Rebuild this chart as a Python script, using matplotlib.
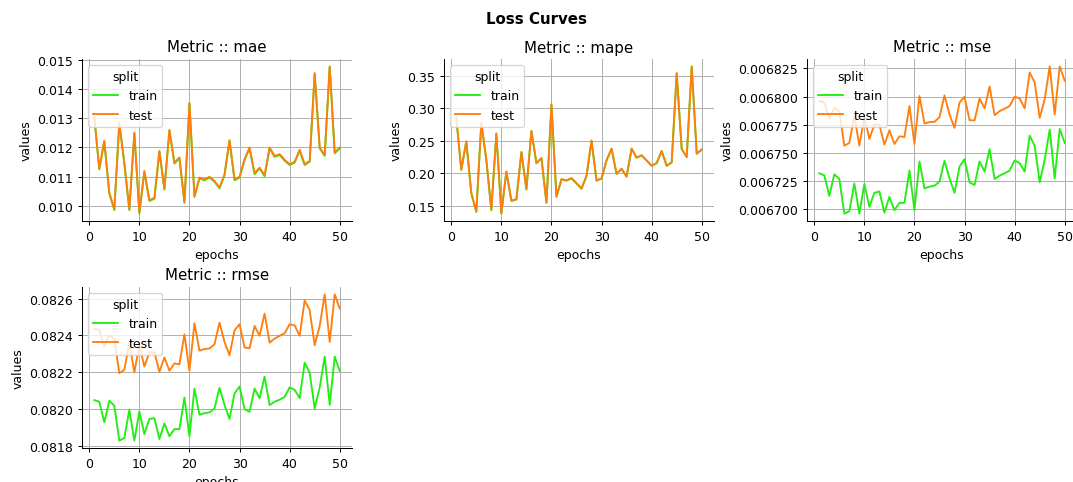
import numpy as np
import matplotlib.pyplot as plt
from matplotlib.ticker import MultipleLocator, FormatStrFormatter

epochs = list(range(1, 51))

mae_test = [0.01306, 0.01128, 0.01223, 0.01046, 0.00989, 0.01285, 0.01148, 0.00989, 0.01251, 0.00977,
            0.01120, 0.01020, 0.01028, 0.01188, 0.01059, 0.01260, 0.01148, 0.01166, 0.01014, 0.01352,
            0.01034, 0.01097, 0.01091, 0.01100, 0.01086, 0.01063, 0.01108, 0.01225, 0.01091, 0.01100,
            0.01160, 0.01200, 0.01112, 0.01131, 0.01105, 0.01200, 0.01171, 0.01177, 0.01158, 0.01143,
            0.01151, 0.01192, 0.01143, 0.01154, 0.01454, 0.01200, 0.01174, 0.01477, 0.01183, 0.01200]
mae_train = [0.01304, 0.01125, 0.01221, 0.01043, 0.00986, 0.01283, 0.01145, 0.00986, 0.01249, 0.00974,
             0.01117, 0.01017, 0.01025, 0.01186, 0.01056, 0.01258, 0.01145, 0.01163, 0.01011, 0.01350,
             0.01031, 0.01094, 0.01088, 0.01097, 0.01083, 0.01060, 0.01105, 0.01223, 0.01088, 0.01097,
             0.01157, 0.01197, 0.01109, 0.01128, 0.01102, 0.01197, 0.01168, 0.01174, 0.01155, 0.01140,
             0.01148, 0.01189, 0.01140, 0.01151, 0.01452, 0.01197, 0.01171, 0.01475, 0.01180, 0.01197]

mape_test = [0.2854, 0.2053, 0.2492, 0.1693, 0.1407, 0.2777, 0.2208, 0.1433, 0.2611, 0.1381,
             0.2027, 0.1576, 0.1598, 0.2327, 0.1752, 0.2652, 0.2156, 0.2234, 0.1547, 0.3061,
             0.1640, 0.1908, 0.1888, 0.1924, 0.1846, 0.1763, 0.1960, 0.2503, 0.1888, 0.1919,
             0.2198, 0.2379, 0.1991, 0.2068, 0.1949, 0.2379, 0.2240, 0.2276, 0.2198, 0.2116,
             0.2156, 0.2342, 0.2116, 0.2167, 0.3541, 0.2374, 0.2250, 0.3645, 0.2302, 0.2364]
mape_train = [0.2850, 0.2048, 0.2488, 0.1689, 0.1402, 0.2773, 0.2204, 0.1428, 0.2607, 0.1376,
              0.2023, 0.1571, 0.1594, 0.2323, 0.1747, 0.2648, 0.2152, 0.2230, 0.1542, 0.3057,
              0.1635, 0.1904, 0.1884, 0.1920, 0.1842, 0.1759, 0.1956, 0.2499, 0.1884, 0.1915,
              0.2194, 0.2375, 0.1987, 0.2064, 0.1945, 0.2375, 0.2236, 0.2272, 0.2194, 0.2112,
              0.2152, 0.2338, 0.2112, 0.2163, 0.3537, 0.2370, 0.2246, 0.3641, 0.2298, 0.2360]

mse_train = [0.0067319, 0.0067301, 0.0067119, 0.0067310, 0.0067269, 0.0066961, 0.0066982, 0.0067229, 0.0066961, 0.0067224,
             0.0067021, 0.0067146, 0.0067158, 0.0066970, 0.0067110, 0.0066991, 0.0067057, 0.0067057, 0.0067343, 0.0066991,
             0.0067424, 0.0067185, 0.0067200, 0.0067209, 0.0067245, 0.0067430, 0.0067274, 0.0067146, 0.0067379, 0.0067445,
             0.0067239, 0.0067215, 0.0067424, 0.0067334, 0.0067534, 0.0067269, 0.0067298, 0.0067319, 0.0067343, 0.0067433,
             0.0067409, 0.0067334, 0.0067653, 0.0067564, 0.0067239, 0.0067439, 0.0067707, 0.0067274, 0.0067713, 0.0067588]
mse_test = [0.0067961, 0.0067946, 0.0067803, 0.0067901, 0.0067871, 0.0067564, 0.0067588, 0.0067832, 0.0067564, 0.0067820,
            0.0067624, 0.0067752, 0.0067752, 0.0067573, 0.0067701, 0.0067579, 0.0067647, 0.0067641, 0.0067916, 0.0067579,
            0.0068005, 0.0067761, 0.0067773, 0.0067776, 0.0067817, 0.0068011, 0.0067841, 0.0067722, 0.0067946, 0.0067999,
            0.0067791, 0.0067788, 0.0067982, 0.0067895, 0.0068089, 0.0067835, 0.0067871, 0.0067892, 0.0067916, 0.0067999,
            0.0067984, 0.0067895, 0.0068214, 0.0068125, 0.0067811, 0.0067976, 0.0068268, 0.0067841, 0.0068268, 0.0068140]

rmse_train = [0.082048, 0.082039, 0.081927, 0.082045, 0.082017, 0.081827, 0.081842, 0.081996, 0.081827, 0.081986,
              0.081863, 0.081945, 0.081950, 0.081836, 0.081921, 0.081851, 0.081890, 0.081890, 0.082062, 0.081851,
              0.082111, 0.081968, 0.081977, 0.081981, 0.082002, 0.082115, 0.082022, 0.081945, 0.082084, 0.082122,
              0.081999, 0.081984, 0.082111, 0.082058, 0.082176, 0.082021, 0.082039, 0.082050, 0.082066, 0.082117,
              0.082104, 0.082058, 0.082252, 0.082197, 0.082002, 0.082117, 0.082285, 0.082022, 0.082285, 0.082207]
rmse_test = [0.082437, 0.082430, 0.082339, 0.082401, 0.082383, 0.082195, 0.082213, 0.082361, 0.082199, 0.082348,
             0.082231, 0.082308, 0.082308, 0.082202, 0.082280, 0.082208, 0.082248, 0.082243, 0.082406, 0.082208,
             0.082466, 0.082317, 0.082326, 0.082329, 0.082352, 0.082470, 0.082365, 0.082292, 0.082428, 0.082461,
             0.082335, 0.082330, 0.082452, 0.082398, 0.082519, 0.082361, 0.082383, 0.082398, 0.082412, 0.082461,
             0.082455, 0.082398, 0.082591, 0.082538, 0.082347, 0.082452, 0.082624, 0.082365, 0.082624, 0.082546]

metrics = ["mae", "mape", "mse", "rmse"]
train_vals = [mae_train, mape_train, mse_train, rmse_train]
test_vals = [mae_test, mape_test, mse_test, rmse_test]
# y tick step and label format per metric
y_steps = [0.001, 0.05, 0.000025, 0.0002]
y_fmts = ["%.3f", "%.2f", "%.6f", "%.4f"]

TRAIN_COLOR = "#22ee11"
TEST_COLOR = "#ff7f0e"

W, H = 1073, 483
DPI = 90
fig = plt.figure(figsize=(W / DPI, H / DPI), dpi=DPI)

# axes boxes in pixels: left, top, width, height
boxes = [(82, 60, 270, 162), (444, 60, 270, 162), (807, 60, 270, 162), (82, 288, 270, 161)]

for name, tr, te, step, fmt, (l, t, w, h) in zip(metrics, train_vals, test_vals, y_steps, y_fmts, boxes):
    ax = fig.add_axes([l / W, 1 - (t + h) / H, w / W, h / H])
    ax.plot(epochs, tr, color=TRAIN_COLOR, lw=1.5, label="train")
    ax.plot(epochs, te, color=TEST_COLOR, lw=1.5, label="test")
    ax.set_title(f"Metric :: {name}")
    ax.set_xlabel("epochs")
    ax.set_ylabel("values")
    ax.grid(True)
    ax.set_axisbelow(True)
    ax.spines["top"].set_visible(False)
    ax.spines["right"].set_visible(False)
    ax.set_xticks([0, 10, 20, 30, 40, 50])
    ax.yaxis.set_major_locator(MultipleLocator(step))
    ax.yaxis.set_major_formatter(FormatStrFormatter(fmt))
    ax.legend(title="split", loc="upper left")

fig.suptitle("Loss Curves", fontweight="bold", y=0.975)

fig.savefig("out.png", dpi=DPI)
